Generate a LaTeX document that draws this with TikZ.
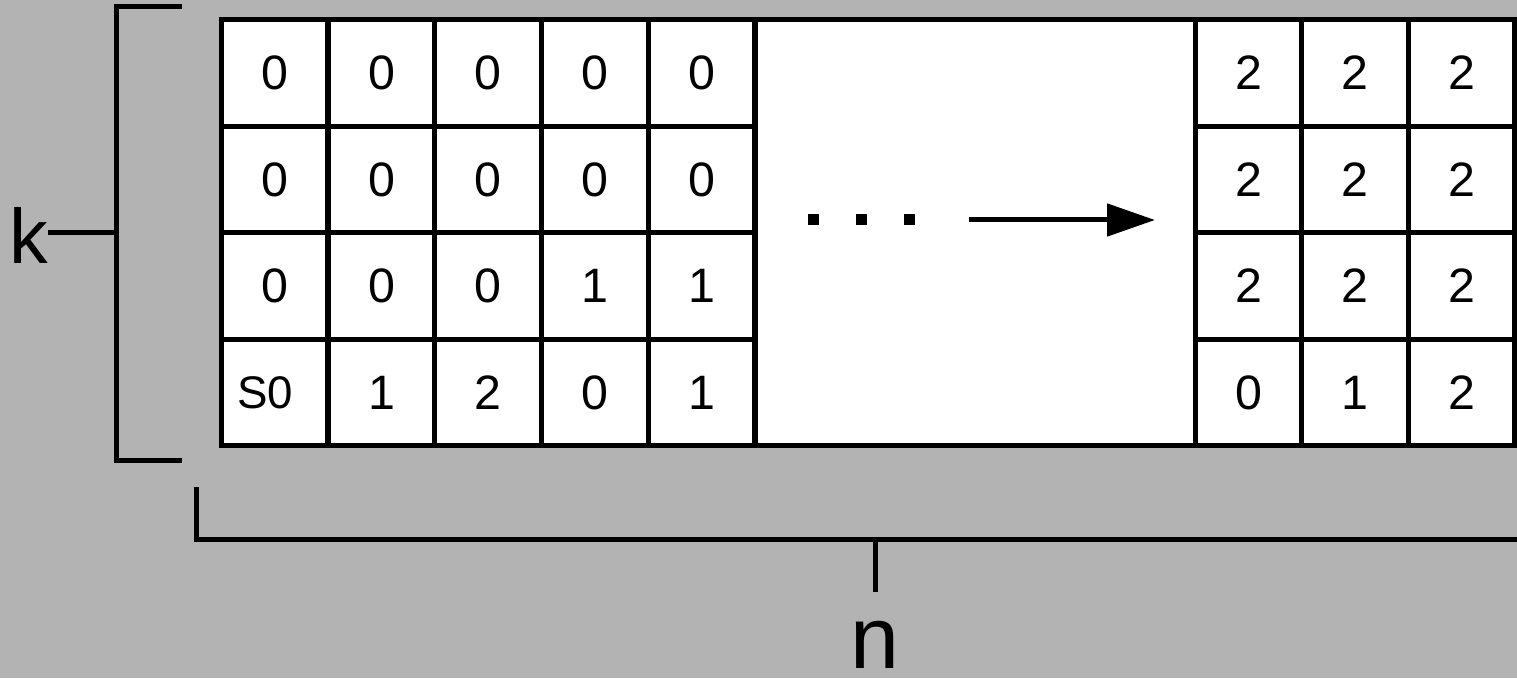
\documentclass[tikz,border=0pt]{standalone}
\usepackage{fontspec}
\setmainfont{Liberation Sans}
\usetikzlibrary{arrows.meta}
\begin{document}
\begin{tikzpicture}[every node/.style={font=\fontsize{27.5}{32}\selectfont}]
			% Define colors
			\definecolor{page_bg}{RGB}{179, 179, 179}

			% Styles
			\tikzstyle{grid_cell} = [draw=black, fill=white, line width=0.1cm, minimum width=2.136cm, minimum height=2.13cm, inner sep=0pt, align=center]
			\tikzstyle{start_cell} = [grid_cell, font=\fontsize{26}{30}\selectfont, text width=1.5cm, align=left]
			\tikzstyle{gap_block} = [draw=black, fill=white, line width=0.1cm, minimum width=8.8cm, minimum height=8.5cm, inner sep=0pt]
			\tikzstyle{dot_square} = [fill=black, minimum size=0.22cm, inner sep=0pt]
			\tikzstyle{bracket_line} = [draw=black, line width=0.1cm]
			\tikzstyle{dim_label} = [inner sep=0pt, text=black]

			% Column X positions
			\def\xa{5.49}
			\def\xb{7.63}
			\def\xc{9.76}
			\def\xd{11.90}
			\def\xe{14.03}
			\def\xf{24.97}
			\def\xg{27.10}
			\def\xh{29.23}
			% Row Y positions
			\def\ya{12.10}
			\def\yb{9.97}
			\def\yc{7.84}
			\def\yd{5.71}

			% Background
			\fill[page_bg] (0,0) rectangle (30.34,13.56);
			\useasboundingbox (0,0) rectangle (30.34,13.56);

			% Middle block with the skipped columns
			\node[gap_block] (gap) at (19.50, 8.91) {};

			% Left cells
			\node[grid_cell] (c11) at (\xa, \ya) {0};
			\node[grid_cell] (c12) at (\xb, \ya) {0};
			\node[grid_cell] (c13) at (\xc, \ya) {0};
			\node[grid_cell] (c14) at (\xd, \ya) {0};
			\node[grid_cell] (c15) at (\xe, \ya) {0};
			\node[grid_cell] (c21) at (\xa, \yb) {0};
			\node[grid_cell] (c22) at (\xb, \yb) {0};
			\node[grid_cell] (c23) at (\xc, \yb) {0};
			\node[grid_cell] (c24) at (\xd, \yb) {0};
			\node[grid_cell] (c25) at (\xe, \yb) {0};
			\node[grid_cell] (c31) at (\xa, \yc) {0};
			\node[grid_cell] (c32) at (\xb, \yc) {0};
			\node[grid_cell] (c33) at (\xc, \yc) {0};
			\node[grid_cell] (c34) at (\xd, \yc) {1};
			\node[grid_cell] (c35) at (\xe, \yc) {1};
			\node[start_cell] (c41) at (\xa, \yd) {S0};
			\node[grid_cell] (c42) at (\xb, \yd) {1};
			\node[grid_cell] (c43) at (\xc, \yd) {2};
			\node[grid_cell] (c44) at (\xd, \yd) {0};
			\node[grid_cell] (c45) at (\xe, \yd) {1};

			% Right cells
			\node[grid_cell] (r11) at (\xf, \ya) {2};
			\node[grid_cell] (r12) at (\xg, \ya) {2};
			\node[grid_cell] (r13) at (\xh, \ya) {2};
			\node[grid_cell] (r21) at (\xf, \yb) {2};
			\node[grid_cell] (r22) at (\xg, \yb) {2};
			\node[grid_cell] (r23) at (\xh, \yb) {2};
			\node[grid_cell] (r31) at (\xf, \yc) {2};
			\node[grid_cell] (r32) at (\xg, \yc) {2};
			\node[grid_cell] (r33) at (\xh, \yc) {2};
			\node[grid_cell] (r41) at (\xf, \yd) {0};
			\node[grid_cell] (r42) at (\xg, \yd) {1};
			\node[grid_cell] (r43) at (\xh, \yd) {2};

			% Dots and arrow
			\node[dot_square] (dot1) at (16.26, 9.16) {};
			\node[dot_square] (dot2) at (17.22, 9.16) {};
			\node[dot_square] (dot3) at (18.18, 9.16) {};
			\coordinate (arrow_start) at (19.38, 9.16);
			\coordinate (arrow_end) at (23.10, 9.16);
			\draw[-{Triangle[length=0.96cm, width=0.64cm]}, line width=0.1cm] (arrow_start) -- (arrow_end);

			% Bracket for k
			\node[dim_label, font=\fontsize{44}{50}\selectfont] (k_label) at (0.57, 8.85) {k};
			\coordinate (k_tick) at (2.32, 8.90);
			\draw[bracket_line] (3.64, 13.42) -- (2.32, 13.42) -- (2.32, 4.36) -- (3.64, 4.36);
			\draw[bracket_line] (k_label.east |- k_tick) -- (k_tick);

			% Bracket for n
			\node[dim_label, font=\fontsize{50}{56}\selectfont] (n_label) at (17.50, 0.66) {n};
			\coordinate (n_tick) at (17.50, 2.78);
			\draw[bracket_line] (3.92, 3.82) -- (3.92, 2.78) -- (30.40, 2.78);
			\draw[bracket_line] (n_tick) -- (17.50, 1.72);

		\end{tikzpicture}
\end{document}
